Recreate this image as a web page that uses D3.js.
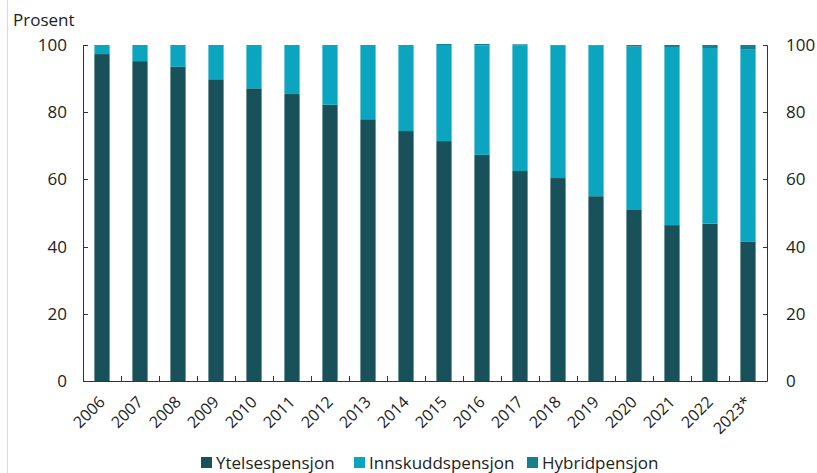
<!DOCTYPE html>
<html><head><meta charset="utf-8">
<script src="https://cdn.jsdelivr.net/npm/d3@7"></script>
<style>
html,body{margin:0;padding:0;background:#fff;}
svg{display:block;font-family:"Open Sans",sans-serif;}
</style></head>
<body><svg id="c" width="817" height="473"></svg>
<script>
const categories = ["2006","2007","2008","2009","2010","2011","2012","2013","2014","2015","2016","2017","2018","2019","2020","2021","2022","2023*"];
const ytelsespensjon = [97.3,95.2,93.5,89.8,87.1,85.4,82.2,77.9,74.4,71.4,67.3,62.5,60.4,55.0,50.9,46.4,46.8,41.4];
const innskuddspensjon = [2.7,4.8,6.5,10.2,12.9,14.6,17.8,22.1,25.6,28.6,32.6,37.3,39.4,44.8,48.6,53.0,52.3,57.2];
const hybridpensjon = [0,0,0,0,0,0,0,0,0,0.3,0.4,0.4,0.2,0.2,0.5,0.6,0.9,1.4];
const seriesNames = ["Ytelsespensjon","Innskuddspensjon","Hybridpensjon"];
const colors = ["#18515a","#0ba5bf","#167f8f"];
const yTicks = [0,20,40,60,80,100];

const svg = d3.select("#c");
const L = 83, R = 767, T = 45, B = 381;

svg.append("line").attr("x1",7.5).attr("x2",7.5).attr("y1",0).attr("y2",473).attr("stroke","#d9d9d9");

const x = d3.scaleBand().domain(categories).range([L,R]).paddingInner(0.6).paddingOuter(0.3);
const y = d3.scaleLinear().domain([0,100]).range([B,T]);

const rows = categories.map((c,i)=>({cat:c, Ytelsespensjon:ytelsespensjon[i], Innskuddspensjon:innskuddspensjon[i], Hybridpensjon:hybridpensjon[i]}));
const stack = d3.stack().keys(seriesNames)(rows);

stack.forEach((s,si)=>{
  svg.append("g").selectAll("rect").data(s).join("rect")
    .attr("x",d=>x(d.data.cat))
    .attr("width",x.bandwidth())
    .attr("y",d=>y(d[1]))
    .attr("height",d=>Math.max(0,y(d[0])-y(d[1])))
    .attr("fill",colors[si]);
});

// axes
const ax = svg.append("g").attr("stroke","#333").attr("stroke-width",1).attr("fill","none");
ax.append("path").attr("d",`M${L+4},${T+0.5}H${L+0.5}V${B+0.5}H${R+0.5}V${T+0.5}H${R-4}`);
yTicks.forEach(t=>{
  const yy = Math.round(y(t))+0.5;
  ax.append("line").attr("x1",L).attr("x2",L+5).attr("y1",yy).attr("y2",yy);
  ax.append("line").attr("x1",R-4).attr("x2",R).attr("y1",yy).attr("y2",yy);
});
const step = x.step();
for(let i=1;i<categories.length;i++){
  const xx = Math.round(x(categories[i]) - (step-x.bandwidth())/2)+0.5;
  ax.append("line").attr("x1",xx).attr("x2",xx).attr("y1",B-5).attr("y2",B);
}

const lab = svg.append("g").attr("fill","#222").attr("font-size",17);
yTicks.forEach(t=>{
  lab.append("text").attr("x",67).attr("y",y(t)+6).attr("text-anchor","end").text(t);
  lab.append("text").attr("x",786).attr("y",y(t)+6).attr("text-anchor","start").text(t);
});
lab.append("text").attr("x",13).attr("y",26).text("Prosent");

categories.forEach(c=>{
  const cx = x(c)+x.bandwidth()/2+4;
  lab.append("text").attr("transform",`translate(${cx},${B+22}) rotate(-45)`)
    .attr("text-anchor","end").attr("font-size",16).text(c);
});

// legend
const lx = [201,354,527];
seriesNames.forEach((n,i)=>{
  svg.append("rect").attr("x",lx[i]).attr("y",457).attr("width",11).attr("height",11).attr("fill",colors[i]);
  svg.append("text").attr("x",lx[i]+15).attr("y",469).attr("font-size",17).attr("fill","#222").text(n);
});
</script></body></html>
